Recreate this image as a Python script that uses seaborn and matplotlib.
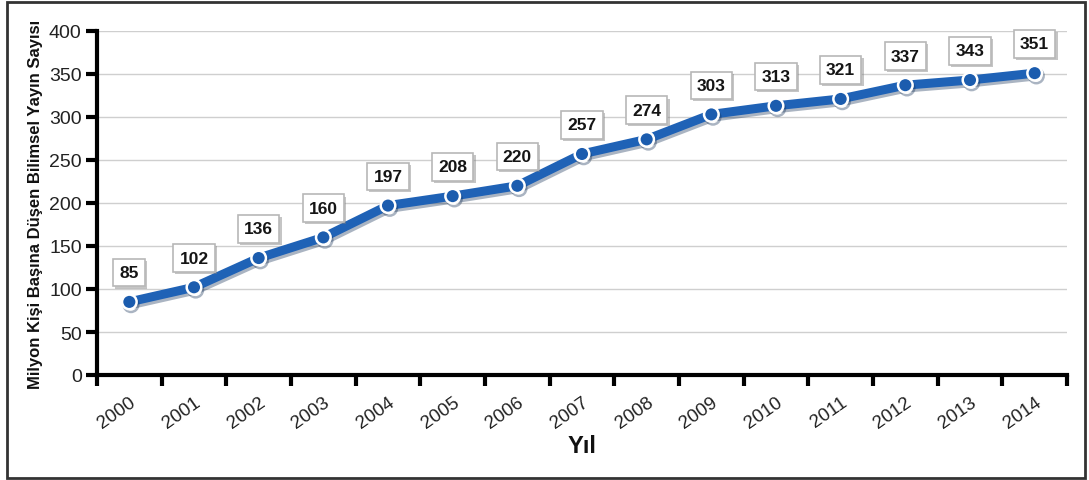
import matplotlib
matplotlib.use("Agg")
import matplotlib.pyplot as plt
import matplotlib.patheffects as pe
from matplotlib.patches import Rectangle
import seaborn as sns
import pandas as pd
import numpy as np

years = ["2000", "2001", "2002", "2003", "2004", "2005", "2006", "2007",
         "2008", "2009", "2010", "2011", "2012", "2013", "2014"]
values = [85, 102, 136, 160, 197, 208, 220, 257, 274, 303, 313, 321, 337, 343, 351]
y_ticks = [0, 50, 100, 150, 200, 250, 300, 350, 400]

sns.set_theme(style="white")
plt.rcParams["font.family"] = ["Liberation Sans", "DejaVu Sans"]

df = pd.DataFrame({"pos": np.arange(len(years)), "value": values})

fig = plt.figure(figsize=(10.89, 4.81), dpi=100)
ax = fig.add_axes([97 / 1089, 1 - 376 / 481, (1067 - 97) / 1089, (376 - 32) / 481])

line_color = "#1f62b6"
sns.lineplot(data=df, x="pos", y="value", ax=ax, color=line_color, linewidth=6.5,
             marker="o", markersize=10.5, markerfacecolor="#1b5cae",
             markeredgecolor="white", markeredgewidth=1.8, zorder=3,
             path_effects=[pe.SimpleLineShadow(offset=(1.2, -2), shadow_color="#0d2a50", alpha=0.35),
                           pe.Normal()])

for x, v in zip(df["pos"], df["value"]):
    ann = ax.annotate(str(v), (x, v), xytext=(0, 21), textcoords="offset points",
                      ha="center", va="center", fontsize=12.5, fontweight="bold", color="#151515",
                      bbox=dict(boxstyle="square,pad=0.36", fc="white", ec="#b8b8b8", lw=1.2),
                      zorder=5)
    ann.get_bbox_patch().set_path_effects(
        [pe.SimplePatchShadow(offset=(1.5, -1.5), shadow_rgbFace="#808080", alpha=0.45), pe.Normal()])

ax.set_xlim(-0.5, len(years) - 0.5)
ax.set_ylim(0, 400)
ax.set_yticks(y_ticks)
ax.set_yticklabels([str(t) for t in y_ticks], fontsize=14, color="#222222")

# category boundaries carry the tick marks, centres carry the labels
ax.set_xticks(np.arange(-0.5, len(years), 1.0))
ax.set_xticklabels([])
ax.set_xticks(np.arange(len(years)), minor=True)
ax.set_xticklabels(years, minor=True, rotation=35, ha="right", rotation_mode="anchor",
                   fontsize=13.5, color="#222222")
ax.tick_params(axis="x", which="major", direction="out", length=8, width=3, color="black", bottom=True)
ax.tick_params(axis="x", which="minor", length=0, pad=13, bottom=True)
ax.tick_params(axis="y", which="major", direction="out", length=8, width=3, color="black", left=True, pad=3)

ax.yaxis.grid(True, color="#cfcfcf", linewidth=1)
ax.xaxis.grid(False)
for side in ["top", "right"]:
    ax.spines[side].set_visible(False)
for side in ["left", "bottom"]:
    ax.spines[side].set_color("black")
    ax.spines[side].set_linewidth(3)
ax.set_axisbelow(True)

ax.set_xlabel("Yıl", fontsize=17, fontweight="bold", color="#111111", labelpad=2)
ax.set_ylabel("Milyon Kişi Başına Düşen Bilimsel Yayın Sayısı", fontsize=12, fontweight="bold",
              color="#111111", labelpad=4)

fig.patches.append(Rectangle((7 / 1089, 2 / 481), 1078 / 1089, 476 / 481, transform=fig.transFigure,
                             fill=False, ec="#333333", lw=2))

fig.savefig("out.png", dpi=100)
